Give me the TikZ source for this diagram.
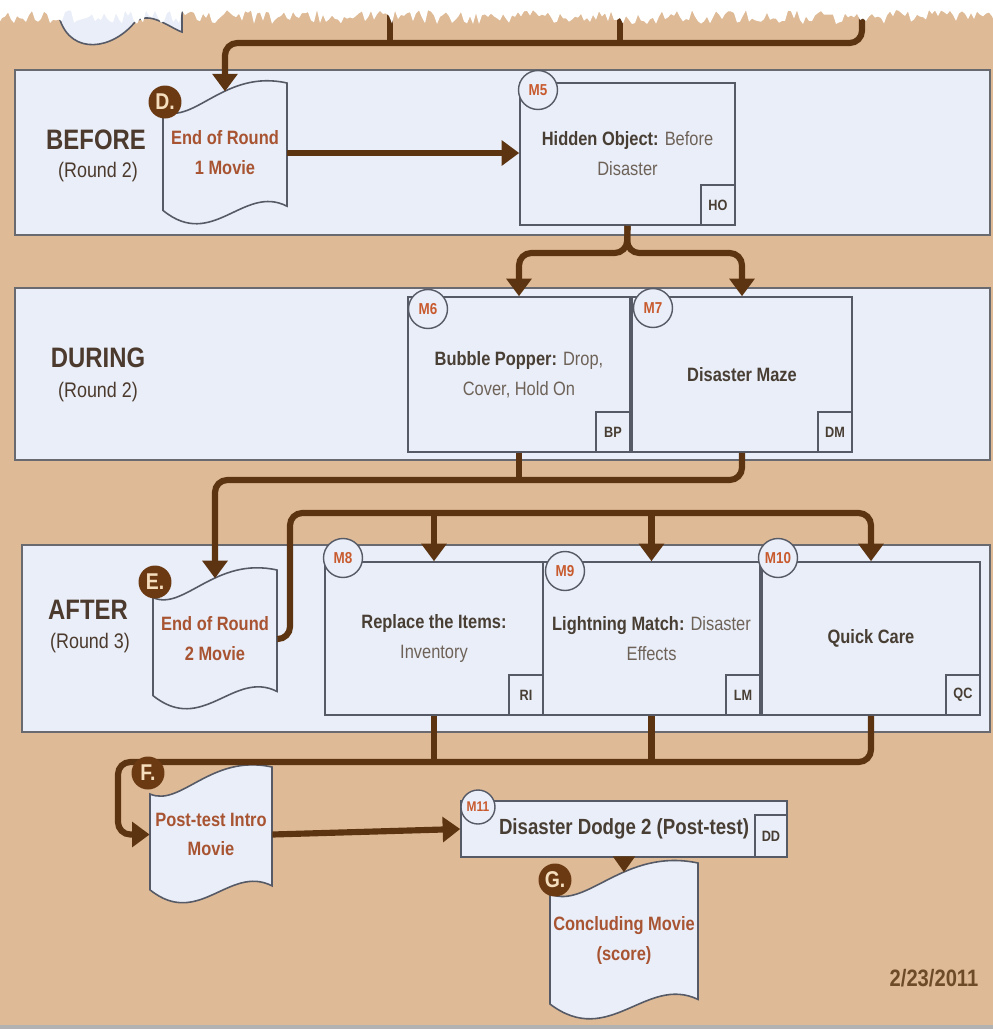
\documentclass[tikz,border=0pt]{standalone}
\usepackage{fontspec}
\setmainfont{Liberation Sans}[FakeStretch=0.85]
\usetikzlibrary{arrows.meta}
\definecolor{paper}{RGB}{222,186,150}
\definecolor{bandfill}{RGB}{233,238,248}
\definecolor{bandline}{RGB}{105,105,112}
\definecolor{boxline}{RGB}{85,90,102}
\definecolor{flowbrown}{RGB}{92,52,18}
\definecolor{stepbrown}{RGB}{108,58,18}
\definecolor{stepcream}{RGB}{245,222,190}
\definecolor{docred}{RGB}{168,84,50}
\definecolor{mlabel}{RGB}{200,90,46}
\definecolor{textdark}{RGB}{72,62,52}
\definecolor{textlight}{RGB}{110,98,88}
\definecolor{phasetext}{RGB}{75,58,45}
\definecolor{datebrown}{RGB}{110,75,40}

\tikzset{
  bandbox/.style={draw=bandline, fill=bandfill, line width=1.2pt},
  gamebox/.style={draw=boxline, fill=bandfill, line width=0.9pt, align=center, inner sep=0pt, text=textdark, font=\fontsize{11}{17}\selectfont},
  tagbox/.style={draw=boxline, fill=bandfill, line width=0.9pt, anchor=south east, minimum width=0.68cm, minimum height=0.8cm, inner sep=0pt, text=textdark, font=\fontsize{8.5}{10}\selectfont\bfseries},
  mcircle/.style={circle, draw=boxline, fill=bandfill, line width=0.8pt, minimum size=0.78cm, inner sep=0pt, text=mlabel, font=\fontsize{9}{10}\selectfont\bfseries},
  stepcircle/.style={circle, fill=stepbrown, minimum size=0.66cm, inner sep=0pt, text=stepcream, font=\fontsize{13}{14}\selectfont\bfseries},
  docshape/.style={draw=boxline, fill=bandfill, line width=0.9pt},
  doctext/.style={align=center, inner sep=0pt, text=docred, font=\fontsize{11}{17}\selectfont\bfseries},
  phaselabel/.style={text=phasetext, font=\fontsize{16}{18}\selectfont\bfseries},
  roundlabel/.style={text=phasetext, font=\fontsize{12}{14}\selectfont},
  link/.style={draw=flowbrown, line width=3.5pt, rounded corners=7pt},
  flow/.style={link, -{Triangle[width=14pt,length=10pt]}},
}

% wavy movie sheet: name, left, top, right, bottom, text
\newcommand\moviedoc[6]{%
  \pgfmathsetmacro\docw{#4-#2}%
  \pgfmathsetmacro\doch{#5-#3}%
  \draw[docshape] (#2,#3+0.2*\doch) .. controls (#2+0.25*\docw,#3+0.3*\doch) and (#2+0.5*\docw,#3-0.1*\doch) .. (#4,#3)
    -- (#4,#5-0.12*\doch) .. controls (#4-0.35*\docw,#5-0.28*\doch) and (#2+0.4*\docw,#5+0.2*\doch) .. (#2,#5-0.09*\doch) -- cycle;
  \node[doctext, minimum width=\docw*0.02cm, minimum height=\doch*0.014cm] (#1) at ({(#2+#4)/2},{(#3+#5)/2}) {#6};
  \coordinate (#1-top) at (#2+0.5*\docw,#3+0.06*\doch);
}

\begin{document}
\begin{tikzpicture}[x=0.02cm, y=-0.02cm]
  \useasboundingbox (0,0) rectangle (993,1029);
  \fill[paper] (0,0) rectangle (993,1029);
  \fill[gray!60] (0,1025) rectangle (993,1029);

  % sheet left over from the page above
  \draw[docshape] (60,0) -- (60,20) .. controls (72,55) and (112,50) .. (135,22) .. controls (150,10) and (170,28) .. (182,32) -- (182,0);

  \draw[bandbox] (15,70) rectangle (990,235);
  \draw[bandbox] (15,288) rectangle (990,460);
  \draw[bandbox] (22,545) rectangle (990,732);

  \node[phaselabel] (before) at (96,140) {BEFORE};
  \node[roundlabel] (before-round) at (98,172) {(Round 2)};
  \node[phaselabel] (during) at (98,358) {DURING};
  \node[roundlabel] (during-round) at (98,392) {(Round 2)};
  \node[phaselabel] (after) at (88,610) {AFTER};
  \node[roundlabel] (after-round) at (90,643) {(Round 3)};

  \moviedoc{d}{163}{83}{287}{223}{End of Round\\1 Movie}
  \moviedoc{e}{153}{570}{277}{708}{End of Round\\2 Movie}
  \moviedoc{f}{150}{767}{272}{902}{Post-test Intro\\Movie}
  \moviedoc{g}{550}{863}{698}{1018}{Concluding Movie\\(score)}

  \node[gamebox, minimum width=4.30cm, minimum height=2.84cm] (m5) at (627.5,154) {\textbf{Hidden Object:} \textcolor{textlight}{Before}\\\textcolor{textlight}{Disaster}};
  \node[tagbox] (m5-tag) at (m5.south east) {HO};
  \node[gamebox, minimum width=4.44cm, minimum height=3.10cm] (m6) at (519,374.5) {\textbf{Bubble Popper:} \textcolor{textlight}{Drop,}\\\textcolor{textlight}{Cover, Hold On}};
  \node[tagbox] (m6-tag) at (m6.south east) {BP};
  \node[gamebox, minimum width=4.40cm, minimum height=3.10cm] (m7) at (742,374.5) {\textbf{Disaster Maze}};
  \node[tagbox] (m7-tag) at (m7.south east) {DM};
  \node[gamebox, minimum width=4.36cm, minimum height=3.06cm] (m8) at (434,638.5) {\textbf{Replace the Items:}\\\textcolor{textlight}{Inventory}};
  \node[tagbox] (m8-tag) at (m8.south east) {RI};
  \node[gamebox, minimum width=4.34cm, minimum height=3.06cm] (m9) at (651.5,638.5) {\textbf{Lightning Match:} \textcolor{textlight}{Disaster}\\\textcolor{textlight}{Effects}};
  \node[tagbox] (m9-tag) at (m9.south east) {LM};
  \node[gamebox, minimum width=4.36cm, minimum height=3.06cm] (m10) at (871,638.5) {\textbf{Quick Care}};
  \node[tagbox] (m10-tag) at (m10.south east) {QC};
  \node[gamebox, minimum width=6.52cm, minimum height=1.12cm, font=\fontsize{12.5}{14}\selectfont\bfseries] (m11) at (624,829) {Disaster Dodge 2 (Post-test)};
  \node[tagbox, minimum height=0.84cm, minimum width=0.64cm] (m11-tag) at (m11.south east) {DD};

  \coordinate (in1) at (390,4);
  \coordinate (in2) at (620,4);
  \coordinate (in3) at (862,4);
  \coordinate (j1) at (390,43);
  \coordinate (j2) at (620,43);
  \coordinate (split1) at (627,253);
  \coordinate (join1) at (519,480);
  \coordinate (rise1) at (290,513);
  \coordinate (drop1) at (118,762);

  \draw[link] (in1) -- (j1);
  \draw[link] (in2) -- (j2);
  \draw[flow] (in3) |- (j1 -| d-top) -- (d-top);
  \draw[flow] (d.east) -- (d.east -| m5.west);
  \draw[flow] (m5.south) -- (split1) -| (m6.north);
  \draw[flow] (m5.south) -- (split1) -| (m7.north);
  \draw[link] (m6.south) -- (join1);
  \draw[flow] (m7.south) |- (join1 -| e-top) -- (e-top);
  \draw[flow] (e.east) -| (rise1) -| (m10.north);
  \draw[flow] (m8.north |- rise1) -- (m8.north);
  \draw[flow] (m9.north |- rise1) -- (m9.north);
  \draw[link] (m8.south) -- (m8.south |- drop1);
  \draw[link] (m9.south) -- (m9.south |- drop1);
  \draw[flow] (m10.south) |- (drop1) |- (f.west);
  \draw[flow] (f.east) -- (m11.west);
  \draw[flow, -{Triangle[width=12pt,length=9pt]}] (m11.south -| g-top) -- (g-top);

  \node[mcircle] (m5-mark) at (538,90) {M5};
  \node[mcircle] (m6-mark) at (428,309) {M6};
  \node[mcircle] (m7-mark) at (653,308) {M7};
  \node[mcircle] (m8-mark) at (343,558) {M8};
  \node[mcircle] (m9-mark) at (565,571) {M9};
  \node[mcircle] (m10-mark) at (778,558) {M10};
  \node[mcircle, minimum size=0.68cm, font=\fontsize{8}{9}\selectfont\bfseries] (m11-mark) at (478,807) {M11};

  \node[stepcircle] (d-mark) at (165,102) {D.};
  \node[stepcircle] (e-mark) at (155,582) {E.};
  \node[stepcircle] (f-mark) at (148,773) {F.};
  \node[stepcircle] (g-mark) at (555,880) {G.};

  \node[text=datebrown, font=\fontsize{13.5}{15}\selectfont\bfseries] (date) at (934,978) {2/23/2011};

  % torn top edge
  \pgfmathsetseed{4}
  \fill[white] (0,-2) -- (995,-2) \foreach \k in {995,992,...,-1} { -- (\k,{17+7*rand}) } -- cycle;
\end{tikzpicture}
\end{document}
